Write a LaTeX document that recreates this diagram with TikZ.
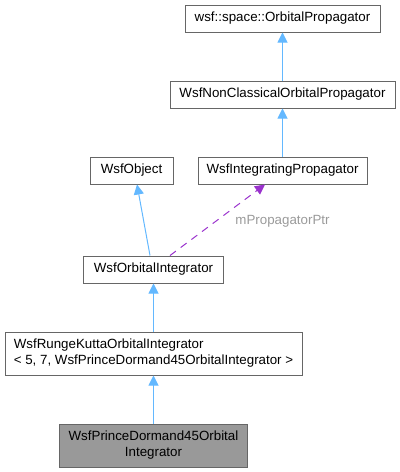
\documentclass[tikz,border=0pt]{standalone}
\usepackage{fontspec}
\setmainfont{Liberation Sans}
\usetikzlibrary{arrows.meta}
\definecolor{edgeblue}{HTML}{63B8FF}
\definecolor{edgepurple}{HTML}{9A32CD}
\definecolor{boxline}{HTML}{666666}
\definecolor{labelgray}{HTML}{9A9A9A}
\definecolor{curfill}{HTML}{999999}
\begin{document}
\begin{tikzpicture}[x=0.75pt,y=-0.75pt,
  box/.style={draw=boxline, line width=0.75pt, fill=white, inner sep=0pt,
    font=\fontsize{10pt}{12pt}\selectfont, minimum height=20.25pt},
  tallbox/.style={box, minimum height=32.25pt},
  inh/.style={draw=edgeblue, line width=0.75pt, -{Triangle[width=7.5pt,length=7.5pt]}},
  usage/.style={draw=edgepurple, line width=0.75pt, dash pattern=on 5.5pt off 4.5pt,
    -{Triangle[width=7.5pt,length=7.5pt]}},
  elabel/.style={text=labelgray, font=\fontsize{10pt}{12pt}\selectfont, inner sep=0pt}]
\useasboundingbox (0,0) rectangle (400,472);
\node[box, minimum width=146.25pt] (b1) at (282.5,18.5) {wsf::space::OrbitalPropagator};
\node[box, minimum width=168.75pt] (b2) at (282.5,94.5) {WsfNonClassicalOrbitalPropagator};
\node[box, minimum width=62.25pt] (b3) at (131.5,170.5) {WsfObject};
\node[box, minimum width=126.75pt] (b4) at (282.5,170.5) {WsfIntegratingPropagator};
\node[box, minimum width=105pt] (b5) at (153.5,269.5) {WsfOrbitalIntegrator};
\node[tallbox, minimum width=222.75pt, align=left] (b6) at (153.5,353.5) {WsfRungeKuttaOrbitalIntegrator\\{}< 5, 7, WsfPrinceDormand45OrbitalIntegrator >};
\node[tallbox, minimum width=141pt, align=center, fill=curfill] (b7) at (153.5,445.5) {WsfPrinceDormand45Orbital\\Integrator};
\draw[inh] (b2.north) -- (b1.south);
\draw[inh] (b4.north) -- (b2.south);
\draw[inh] ([xshift=-2.625pt]b5.north) -- ([xshift=4.125pt]b3.south);
\draw[usage] ([xshift=12.375pt]b5.north) -- ([xshift=-13.125pt]b4.south);
\node[elabel] (lbl) at (282.5,221) {mPropagatorPtr};
\draw[inh] (b6.north) -- (b5.south);
\draw[inh] (b7.north) -- (b6.south);
\end{tikzpicture}
\end{document}
